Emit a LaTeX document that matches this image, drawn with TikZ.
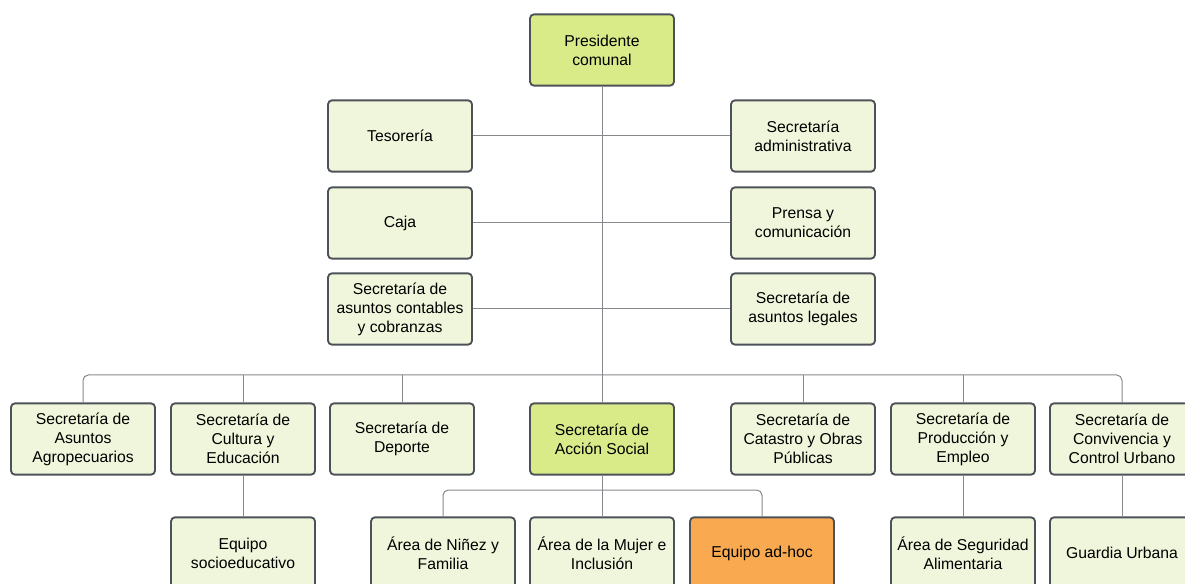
\documentclass[tikz,border=0pt]{standalone}
\usepackage{fontspec}
\setmainfont{Liberation Sans}
\usetikzlibrary{positioning}
\definecolor{boxline}{HTML}{4D5258}
\definecolor{boxfill}{HTML}{F0F6DB}
\definecolor{keyfill}{HTML}{D9EA89}
\definecolor{adhocfill}{HTML}{F9AA50}
\definecolor{connline}{HTML}{85898E}
\begin{document}
\begin{tikzpicture}[x=0.75pt,y=-0.75pt,
	box/.style={draw=boxline,line width=1.4pt,rounded corners=3pt,fill=boxfill,
		minimum width=108pt,minimum height=53.5pt,align=center,inner sep=2pt,
		font=\fontsize{11.8}{14.3}\selectfont},
	keybox/.style={box,fill=keyfill},
	adhocbox/.style={box,fill=adhocfill},
	conn/.style={draw=connline,line width=0.75pt,rounded corners=4pt}]
		\useasboundingbox (0,0) rectangle (1185,584);
		\clip (0,0) rectangle (1185,584);
		% top
		\node[keybox] (pres) at (602,50) {Presidente\\comunal};
		\node[box] (teso) at (400,136) {Tesorería};
		\node[box] (admin) at (803,136) {Secretaría\\administrativa};
		\node[box] (caja) at (400,223) {Caja};
		\node[box] (prensa) at (803,223) {Prensa y\\comunicación};
		\node[box] (conta) at (400,309) {Secretaría de\\asuntos contables\\y cobranzas};
		\node[box] (legal) at (803,309) {Secretaría de\\asuntos legales};
		% secretarias
		\node[box] (agro) at (83,439) {Secretaría de\\Asuntos\\Agropecuarios};
		\node[box] (cult) at (243,439) {Secretaría de\\Cultura y\\Educación};
		\node[box] (depo) at (402,439) {Secretaría de\\Deporte};
		\node[keybox] (accion) at (602,439) {Secretaría de\\Acción Social};
		\node[box] (catas) at (803,439) {Secretaría de\\Catastro y Obras\\Públicas};
		\node[box] (prod) at (963,439) {Secretaría de\\Producción y\\Empleo};
		\node[box] (conv) at (1122,439) {Secretaría de\\Convivencia y\\Control Urbano};
		% areas
		\node[box] (socio) at (243,553) {Equipo\\socioeducativo};
		\node[box] (ninez) at (443,553) {Área de Niñez y\\Familia};
		\node[box] (mujer) at (602,553) {Área de la Mujer e\\Inclusión};
		\node[adhocbox] (adhoc) at (762,553) {Equipo ad-hoc};
		\node[box] (segu) at (963,553) {Área de Seguridad\\Alimentaria};
		\node[box] (guard) at (1122,553) {Guardia Urbana};
		\coordinate (bus) at (602,375);
		\coordinate (sub) at (602,490);
		% connectors
		\draw[conn] (pres.south) -- (bus);
		\draw[conn] (teso.east) -- (admin.west);
		\draw[conn] (caja.east) -- (prensa.west);
		\draw[conn] (conta.east) -- (legal.west);
		\draw[conn] (agro.north) |- (bus) -| (conv.north);
		\draw[conn] (cult.north) -- (cult.north |- bus);
		\draw[conn] (depo.north) -- (depo.north |- bus);
		\draw[conn] (accion.north) -- (bus);
		\draw[conn] (catas.north) -- (catas.north |- bus);
		\draw[conn] (prod.north) -- (prod.north |- bus);
		\draw[conn] (accion.south) -- (mujer.north);
		\draw[conn] (ninez.north) |- (sub) -| (adhoc.north);
		\draw[conn] (cult.south) -- (socio.north);
		\draw[conn] (prod.south) -- (segu.north);
		\draw[conn] (conv.south) -- (guard.north);
	\end{tikzpicture}
\end{document}
